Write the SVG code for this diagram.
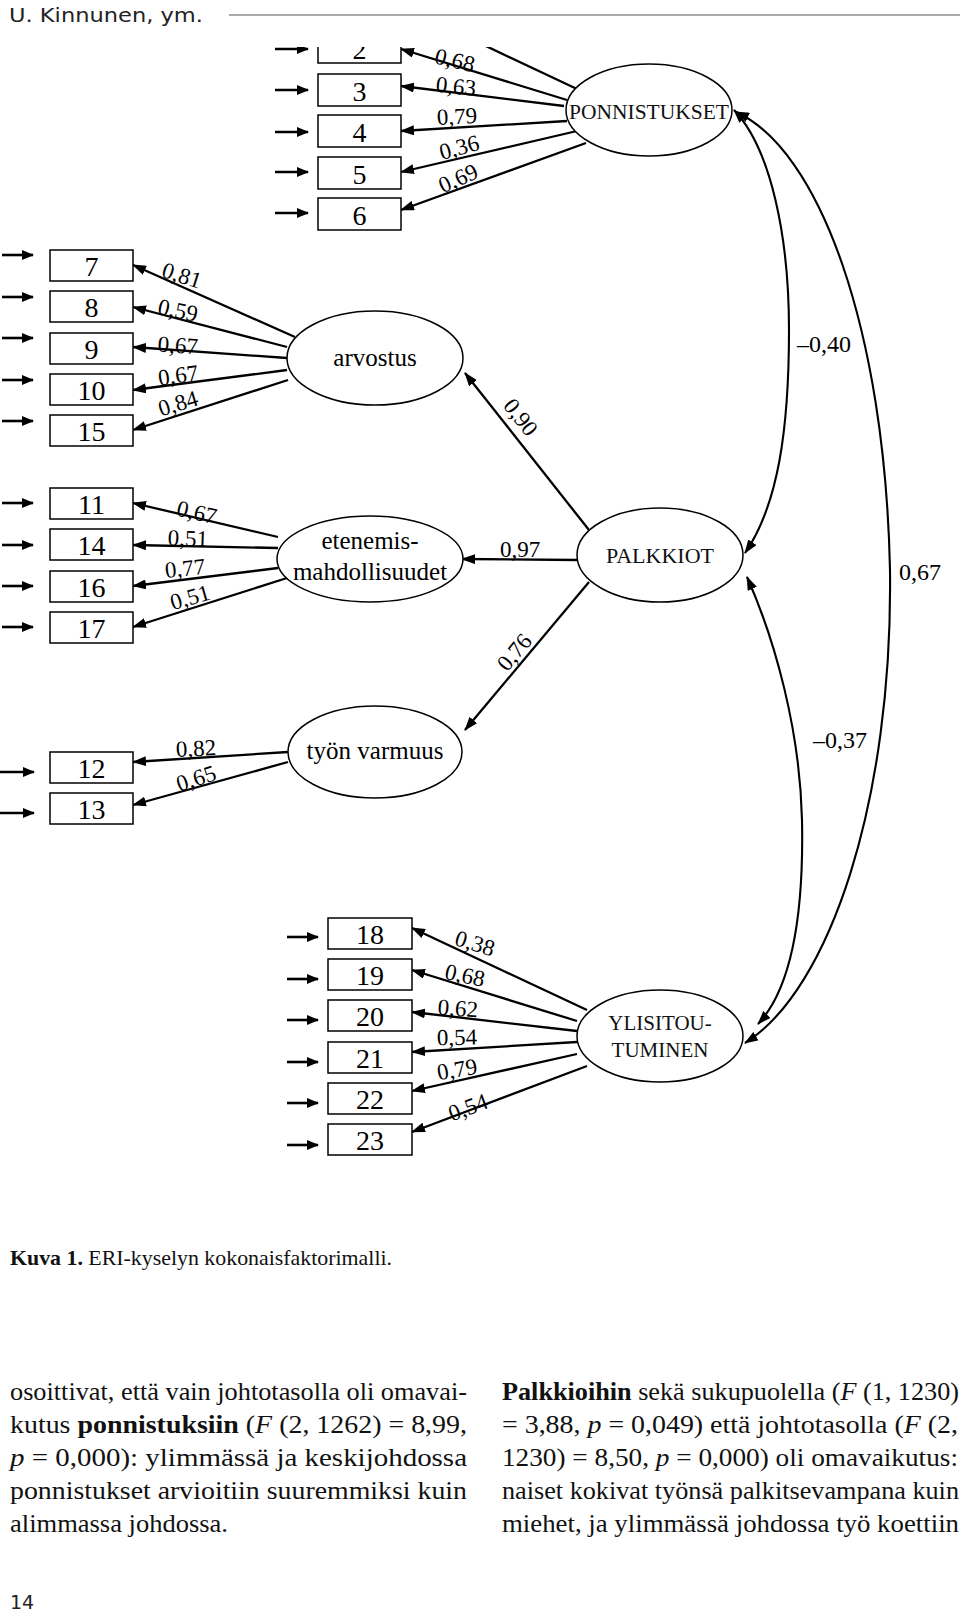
<svg xmlns="http://www.w3.org/2000/svg" width="960" height="1613" viewBox="0 0 960 1613">
<style>
.box{fill:#fff;stroke:#000;stroke-width:1.5}
.ell{fill:#fff;stroke:#000;stroke-width:1.5}
.num{font-family:"Liberation Serif",serif;font-size:28px;text-anchor:middle;fill:#000}
.lbl{font-family:"Liberation Serif",serif;font-size:23px;text-anchor:middle;fill:#000}
.clbl{font-family:"Liberation Serif",serif;font-size:24px;fill:#000}
.ltxt{font-family:"Liberation Serif",serif;font-size:25px;text-anchor:middle;fill:#000}
.utxt{font-family:"Liberation Serif",serif;font-size:22px;text-anchor:middle;fill:#111}
.ln{stroke:#000;stroke-width:2.3;fill:none;marker-end:url(#ah)}
.err{stroke:#000;stroke-width:2.6;fill:none;marker-end:url(#eh)}
.cv{stroke:#000;stroke-width:2.1;fill:none;marker-start:url(#ah);marker-end:url(#ah)}
.body{font-family:"Liberation Serif",serif;font-size:26px;fill:#111}
.hdr{font-family:"DejaVu Sans",sans-serif;font-size:19px;fill:#222}
</style>
<defs>
<marker id="ah" markerUnits="userSpaceOnUse" markerWidth="14" markerHeight="10" refX="13" refY="5" orient="auto-start-reverse"><path d="M0,0 L14,5 L0,10 z" fill="#000"/></marker>
<marker id="eh" markerUnits="userSpaceOnUse" markerWidth="12" markerHeight="10" refX="11" refY="5" orient="auto"><path d="M0,0 L12,5 L0,10 z" fill="#000"/></marker>
<clipPath id="clipTop"><rect x="0" y="47" width="960" height="1566"/></clipPath>
</defs>

<g id="header">
<text class="hdr" x="9" y="22" textLength="194" lengthAdjust="spacingAndGlyphs">U. Kinnunen, ym.</text>
<line x1="229" y1="15" x2="960" y2="15" stroke="#555" stroke-width="1.2"/>
</g>

<g id="connectors" clip-path="url(#clipTop)">
<path class="err" d="M275,49 L308,49"/>
<path class="err" d="M275,90 L308,90"/>
<path class="err" d="M275,132 L308,132"/>
<path class="err" d="M275,172 L308,172"/>
<path class="err" d="M275,213 L308,213"/>
<path class="err" d="M2,255 L33,255"/>
<path class="err" d="M2,297 L33,297"/>
<path class="err" d="M2,338 L33,338"/>
<path class="err" d="M2,380 L33,380"/>
<path class="err" d="M2,421 L33,421"/>
<path class="err" d="M2,503 L33,503"/>
<path class="err" d="M2,545 L33,545"/>
<path class="err" d="M2,586 L33,586"/>
<path class="err" d="M2,627 L33,627"/>
<path class="err" d="M0,772 L34,772"/>
<path class="err" d="M0,813 L34,813"/>
<path class="err" d="M287,937 L318,937"/>
<path class="err" d="M287,979 L318,979"/>
<path class="err" d="M287,1020 L318,1020"/>
<path class="err" d="M287,1062 L318,1062"/>
<path class="err" d="M287,1103 L318,1103"/>
<path class="err" d="M287,1145 L318,1145"/>
<path class="ln" d="M577,89 L401,6"/>
<path class="ln" d="M567,100 L401,49"/>
<path class="ln" d="M564,106 L401,86"/>
<path class="ln" d="M567,121 L401,131"/>
<path class="ln" d="M577,131 L401,172"/>
<path class="ln" d="M586,143 L401,210"/>
<path class="ln" d="M295,337 L133,265"/>
<path class="ln" d="M287,347 L133,307"/>
<path class="ln" d="M287,358 L133,347"/>
<path class="ln" d="M287,370 L133,390"/>
<path class="ln" d="M288,380 L133,430"/>
<path class="ln" d="M278,537 L133,503"/>
<path class="ln" d="M278,548 L133,545"/>
<path class="ln" d="M278,568 L133,586"/>
<path class="ln" d="M287,578 L133,627"/>
<path class="ln" d="M288,752 L133,762"/>
<path class="ln" d="M288,762 L133,805"/>
<path class="ln" d="M587,1010 L412,928"/>
<path class="ln" d="M577,1021 L412,970"/>
<path class="ln" d="M577,1031 L412,1012"/>
<path class="ln" d="M577,1042 L412,1052"/>
<path class="ln" d="M577,1054 L412,1091"/>
<path class="ln" d="M587,1066 L412,1132"/>
<path class="ln" d="M589,530 L465,373"/>
<path class="ln" d="M577,560 L462,559"/>
<path class="ln" d="M589,582 L465,730"/>
<path class="cv" d="M734,110 C772,150 789,240 789,330 C789,430 778,505 745,553"/>
<path class="cv" d="M736,112 C820,150 885,330 890,570 C893,800 830,990 745,1043"/>
<path class="cv" d="M747,577 C775,640 800,730 802,820 C804,920 790,990 758,1024"/>
<text class="lbl" x="455" y="68" transform="rotate(14 455 60)">0,68</text>
<text class="lbl" x="456" y="94" transform="rotate(6 456 86)">0,63</text>
<text class="lbl" x="457" y="124" transform="rotate(-3 457 116)">0,79</text>
<text class="lbl" x="459" y="155" transform="rotate(-15 459 147)">0,36</text>
<text class="lbl" x="458" y="186" transform="rotate(-24 458 178)">0,69</text>
<text class="lbl" x="182" y="283" transform="rotate(18 182 275)">0,81</text>
<text class="lbl" x="178" y="318" transform="rotate(12 178 310)">0,59</text>
<text class="lbl" x="178" y="353" transform="rotate(4 178 345)">0,67</text>
<text class="lbl" x="178" y="383" transform="rotate(-8 178 375)">0,67</text>
<text class="lbl" x="178" y="411" transform="rotate(-17 178 403)">0,84</text>
<text class="lbl" x="197" y="520" transform="rotate(13 197 512)">0,67</text>
<text class="lbl" x="188" y="546" transform="rotate(2 188 538)">0,51</text>
<text class="lbl" x="185" y="576" transform="rotate(-6 185 568)">0,77</text>
<text class="lbl" x="190" y="605" transform="rotate(-16 190 597)">0,51</text>
<text class="lbl" x="196" y="756" transform="rotate(-3 196 748)">0,82</text>
<text class="lbl" x="196" y="786" transform="rotate(-18 196 778)">0,65</text>
<text class="lbl" x="475" y="951" transform="rotate(17 475 943)">0,38</text>
<text class="lbl" x="465" y="983" transform="rotate(12 465 975)">0,68</text>
<text class="lbl" x="458" y="1016" transform="rotate(4 458 1008)">0,62</text>
<text class="lbl" x="457" y="1045" transform="rotate(-1 457 1037)">0,54</text>
<text class="lbl" x="457" y="1077" transform="rotate(-10 457 1069)">0,79</text>
<text class="lbl" x="468" y="1115" transform="rotate(-20 468 1107)">0,54</text>
<text class="lbl" x="521" y="425" transform="rotate(52 521 417)">0,90</text>
<text class="lbl" x="520" y="557">0,97</text>
<text class="lbl" x="514" y="660" transform="rotate(-50 514 652)">0,76</text>
<text class="clbl" x="797" y="352">–0,40</text>
<text class="clbl" x="899" y="580">0,67</text>
<text class="clbl" x="813" y="748">–0,37</text>
</g>

<g id="top-boxes" clip-path="url(#clipTop)">
<g id="box2"><rect class="box" x="318" y="31" width="83" height="32"/><text class="num" x="359.5" y="59">2</text></g>
<g id="box3"><rect class="box" x="318" y="74" width="83" height="32"/><text class="num" x="359.5" y="101">3</text></g>
<g id="box4"><rect class="box" x="318" y="115" width="83" height="32"/><text class="num" x="359.5" y="142">4</text></g>
<g id="box5"><rect class="box" x="318" y="157" width="83" height="32"/><text class="num" x="359.5" y="184">5</text></g>
<g id="box6"><rect class="box" x="318" y="198" width="83" height="32"/><text class="num" x="359.5" y="225">6</text></g>
</g>

<g id="ponnistukset"><ellipse class="ell" cx="649" cy="110" rx="83" ry="46"/><text class="utxt" x="649" y="119" textLength="160" lengthAdjust="spacingAndGlyphs">PONNISTUKSET</text></g>

<g id="box7"><rect class="box" x="50" y="250" width="83" height="31"/><text class="num" x="91.5" y="276">7</text></g>
<g id="box8"><rect class="box" x="50" y="291" width="83" height="31"/><text class="num" x="91.5" y="317">8</text></g>
<g id="box9"><rect class="box" x="50" y="333" width="83" height="31"/><text class="num" x="91.5" y="359">9</text></g>
<g id="box10"><rect class="box" x="50" y="374" width="83" height="31"/><text class="num" x="91.5" y="400">10</text></g>
<g id="box15"><rect class="box" x="50" y="415" width="83" height="31"/><text class="num" x="91.5" y="441">15</text></g>
<g id="arvostus"><ellipse class="ell" cx="375" cy="358" rx="88" ry="47"/><text class="ltxt" x="375" y="366">arvostus</text></g>

<g id="box11"><rect class="box" x="50" y="488" width="83" height="31"/><text class="num" x="91.5" y="514">11</text></g>
<g id="box14"><rect class="box" x="50" y="529" width="83" height="31"/><text class="num" x="91.5" y="555">14</text></g>
<g id="box16"><rect class="box" x="50" y="571" width="83" height="31"/><text class="num" x="91.5" y="597">16</text></g>
<g id="box17"><rect class="box" x="50" y="612" width="83" height="31"/><text class="num" x="91.5" y="638">17</text></g>
<g id="etenemis"><ellipse class="ell" cx="370" cy="559" rx="93" ry="43"/><text class="ltxt" x="370" y="549">etenemis-</text><text class="ltxt" x="370" y="580">mahdollisuudet</text></g>

<g id="box12"><rect class="box" x="50" y="752" width="83" height="31"/><text class="num" x="91.5" y="778">12</text></g>
<g id="box13"><rect class="box" x="50" y="793" width="83" height="31"/><text class="num" x="91.5" y="819">13</text></g>
<g id="tyon-varmuus"><ellipse class="ell" cx="375" cy="752" rx="87" ry="46"/><text class="ltxt" x="375" y="759">työn varmuus</text></g>

<g id="palkkiot"><ellipse class="ell" cx="660" cy="555" rx="83" ry="47"/><text class="utxt" x="660" y="563">PALKKIOT</text></g>

<g id="box18"><rect class="box" x="328" y="918" width="84" height="31"/><text class="num" x="370" y="944">18</text></g>
<g id="box19"><rect class="box" x="328" y="959" width="84" height="31"/><text class="num" x="370" y="985">19</text></g>
<g id="box20"><rect class="box" x="328" y="1000" width="84" height="31"/><text class="num" x="370" y="1026">20</text></g>
<g id="box21"><rect class="box" x="328" y="1042" width="84" height="31"/><text class="num" x="370" y="1068">21</text></g>
<g id="box22"><rect class="box" x="328" y="1083" width="84" height="31"/><text class="num" x="370" y="1109">22</text></g>
<g id="box23"><rect class="box" x="328" y="1124" width="84" height="31"/><text class="num" x="370" y="1150">23</text></g>
<g id="ylisitoutuminen"><ellipse class="ell" cx="660" cy="1036" rx="83" ry="46"/><text class="utxt" x="660" y="1030" style="font-size:21px">YLISITOU-</text><text class="utxt" x="660" y="1057" style="font-size:21px">TUMINEN</text></g>

<g id="caption">
<text class="body" x="10" y="1265" style="font-size:22px" textLength="382" lengthAdjust="spacingAndGlyphs"><tspan font-weight="bold">Kuva 1.</tspan> ERI-kyselyn kokonaisfaktorimalli.</text>
</g>

<g id="bodytext">
<text class="body" x="10" y="1400" textLength="457" lengthAdjust="spacingAndGlyphs">osoittivat, että vain johtotasolla oli omavai-</text>
<text class="body" x="10" y="1433" textLength="457" lengthAdjust="spacingAndGlyphs">kutus <tspan font-weight="bold">ponnistuksiin</tspan> (<tspan font-style="italic">F</tspan> (2, 1262) = 8,99,</text>
<text class="body" x="10" y="1466" textLength="457" lengthAdjust="spacingAndGlyphs"><tspan font-style="italic">p</tspan> = 0,000): ylimmässä ja keskijohdossa</text>
<text class="body" x="10" y="1499" textLength="457" lengthAdjust="spacingAndGlyphs">ponnistukset arvioitiin suuremmiksi kuin</text>
<text class="body" x="10" y="1532" textLength="218" lengthAdjust="spacingAndGlyphs">alimmassa johdossa.</text>
<text class="body" x="502" y="1400" textLength="457" lengthAdjust="spacingAndGlyphs"><tspan font-weight="bold">Palkkioihin</tspan> sekä sukupuolella (<tspan font-style="italic">F</tspan> (1, 1230)</text>
<text class="body" x="502" y="1433" textLength="456" lengthAdjust="spacingAndGlyphs">= 3,88, <tspan font-style="italic">p</tspan> = 0,049) että johtotasolla (<tspan font-style="italic">F</tspan> (2,</text>
<text class="body" x="502" y="1466" textLength="456" lengthAdjust="spacingAndGlyphs">1230) = 8,50, <tspan font-style="italic">p</tspan> = 0,000) oli omavaikutus:</text>
<text class="body" x="502" y="1499" textLength="457" lengthAdjust="spacingAndGlyphs">naiset kokivat työnsä palkitsevampana kuin</text>
<text class="body" x="502" y="1532" textLength="457" lengthAdjust="spacingAndGlyphs">miehet, ja ylimmässä johdossa työ koettiin</text>
</g>

<g id="pagenum"><text class="hdr" x="10" y="1609">14</text></g>
</svg>
